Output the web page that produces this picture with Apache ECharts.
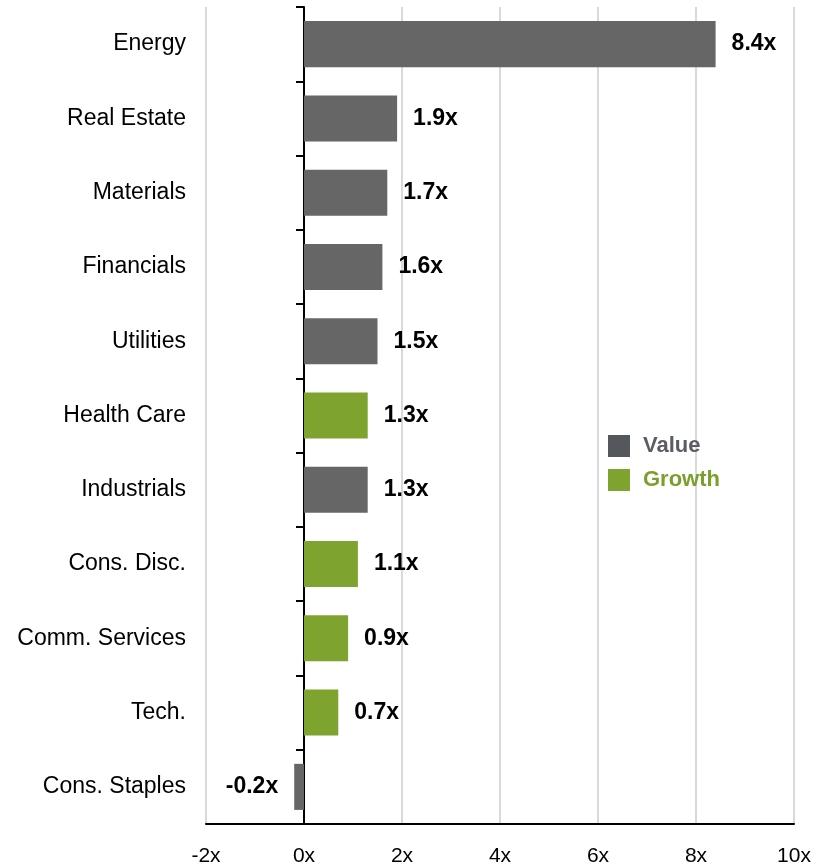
<!DOCTYPE html>
<html>
<head>
<meta charset="utf-8">
<script src="https://cdn.jsdelivr.net/npm/echarts@6/dist/echarts.min.js"></script>
<style>
html,body{margin:0;padding:0;background:#fff;}
#chart{width:831px;height:867px;}
</style>
</head>
<body>
<div id="chart"></div>
<script>
const categories = ['Energy','Real Estate','Materials','Financials','Utilities','Health Care','Industrials','Cons. Disc.','Comm. Services','Tech.','Cons. Staples'];
const values = [8.4,1.9,1.7,1.6,1.5,1.3,1.3,1.1,0.9,0.7,-0.2];
const styles = ['Value','Value','Value','Value','Value','Growth','Value','Growth','Growth','Growth','Value'];
const xTicks = [-2,0,2,4,6,8,10];

const VALUE_COLOR = '#666666';
const GROWTH_COLOR = '#7fa32f';
const FONT = '"Liberation Sans", Arial, sans-serif';

function seriesData(name){
  return values.map((v,i)=>{
    if(styles[i]!==name) return null;
    return {
      value: v,
      label: { position: v < 0 ? 'left' : 'right' }
    };
  });
}

const chart = echarts.init(document.getElementById('chart'));
chart.setOption({
  animation: false,
  textStyle: { fontFamily: FONT },
  grid: { left: 206, right: 37, top: 7, bottom: 39, containLabel: false },
  legend: {
    orient: 'vertical',
    left: 603, top: 430,
    itemWidth: 22, itemHeight: 22, itemGap: 12,
    icon: 'rect',
    data: [
      { name: 'Value', itemStyle: { color: '#54585d' }, textStyle: { color: '#5a5e63' } },
      { name: 'Growth', itemStyle: { color: GROWTH_COLOR }, textStyle: { color: '#7a9f2d' } }
    ],
    textStyle: { fontSize: 22, fontWeight: 'bold', fontFamily: FONT, padding: [0,0,0,8] }
  },
  xAxis: {
    type: 'value',
    min: xTicks[0], max: xTicks[xTicks.length-1], interval: 2,
    axisLine: { show: true, onZero: false, lineStyle: { color: '#000', width: 2 } },
    axisTick: { show: false },
    splitLine: { show: true, lineStyle: { color: '#d9d9d9', width: 2 } },
    axisLabel: { formatter: '{value}x', fontSize: 21, color: '#000', margin: 22, fontFamily: FONT }
  },
  yAxis: [
    {
      type: 'category', data: categories, inverse: true,
      axisLine: { show: true, onZero: true, lineStyle: { color: '#000', width: 2 } },
      axisTick: { show: true, length: 8, lineStyle: { color: '#000', width: 2 } },
      axisLabel: { show: false },
      splitLine: { show: false }
    },
    {
      type: 'category', data: categories, inverse: true, position: 'left',
      axisLine: { show: false, onZero: false },
      axisTick: { show: false },
      axisLabel: { show: true, fontSize: 23, color: '#000', margin: 20, fontFamily: FONT },
      splitLine: { show: false }
    }
  ],
  series: [
    {
      name: 'Value', type: 'bar', stack: 's', yAxisIndex: 0,
      barWidth: '62%',
      itemStyle: { color: VALUE_COLOR },
      label: { show: true, distance: 16, fontSize: 23, fontWeight: 'bold', color: '#000', fontFamily: FONT,
               formatter: p => p.value.toFixed(1) + 'x' },
      data: seriesData('Value')
    },
    {
      name: 'Growth', type: 'bar', stack: 's', yAxisIndex: 0,
      barWidth: '62%',
      itemStyle: { color: GROWTH_COLOR },
      label: { show: true, distance: 16, fontSize: 23, fontWeight: 'bold', color: '#000', fontFamily: FONT,
               formatter: p => p.value.toFixed(1) + 'x' },
      data: seriesData('Growth')
    }
  ]
});
</script>
</body>
</html>
